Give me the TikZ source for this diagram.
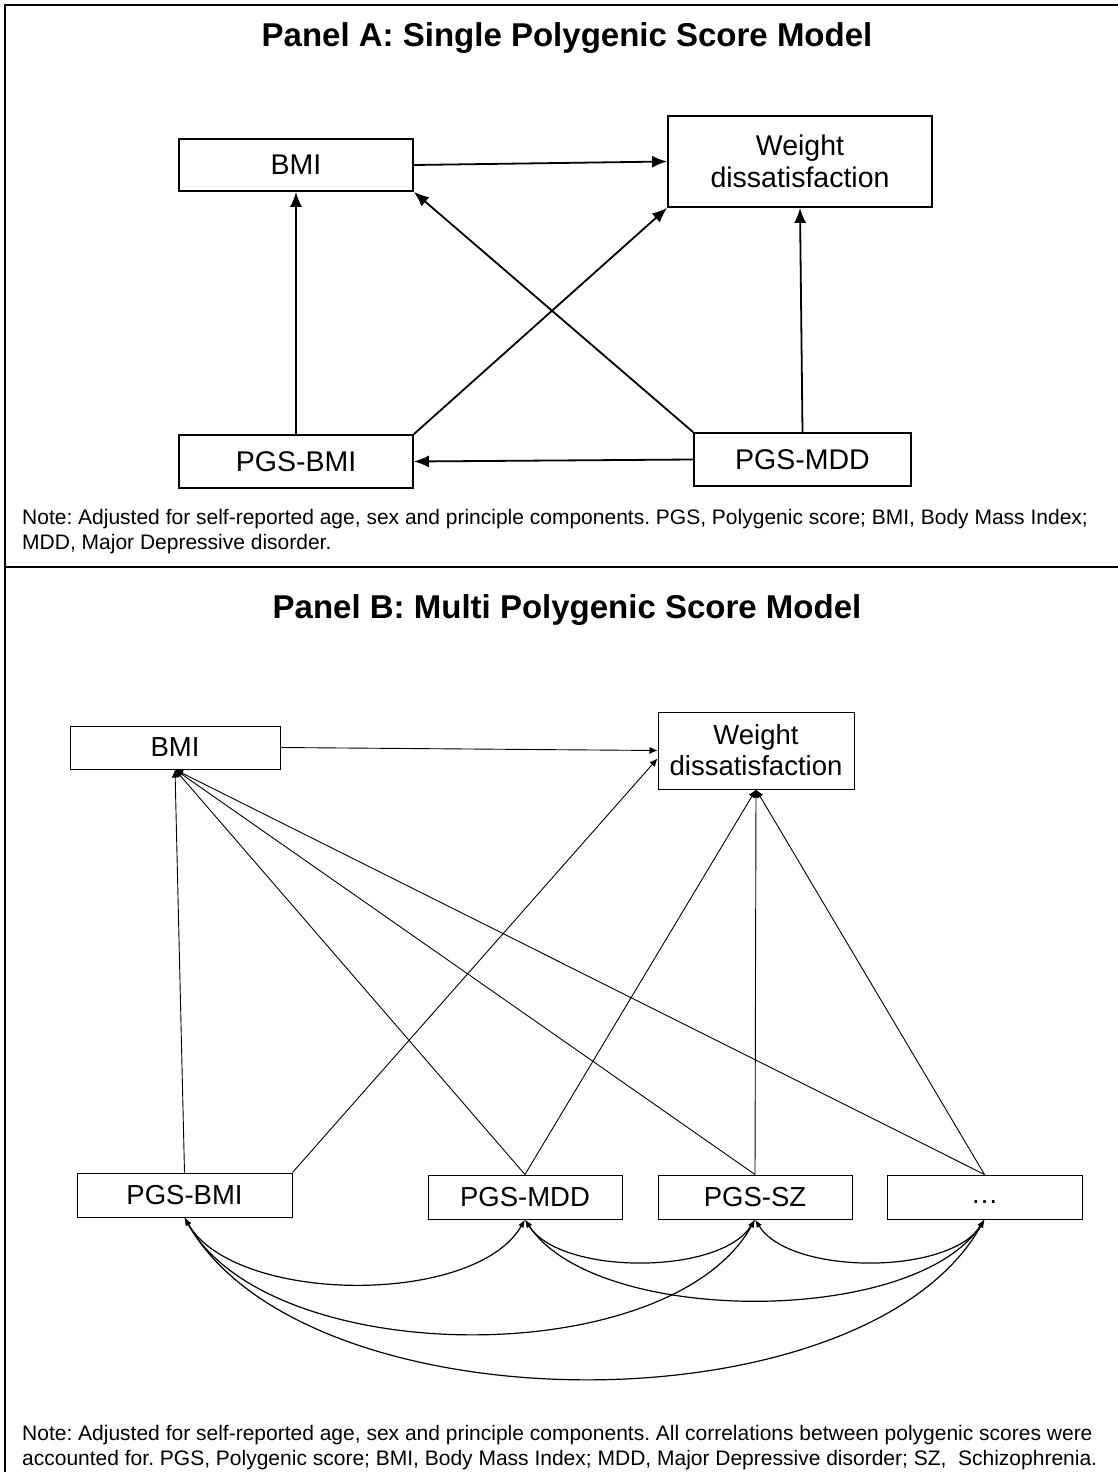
\documentclass[tikz,border=0pt]{standalone}
\usepackage{fontspec}
\setmainfont{Liberation Sans}
\usetikzlibrary{arrows.meta}
\frenchspacing

\tikzset{
  boxA/.style={draw, line width=1.8pt, inner sep=0pt, align=center,
    font=\fontsize{28.5}{32}\selectfont},
  boxB/.style={draw, line width=1pt, inner sep=0pt, align=center,
    font=\fontsize{27.5}{31}\selectfont},
  arrA/.style={line width=1.8pt, -{Latex[length=15pt,width=12pt]}},
  arrB/.style={line width=0.9pt, -{Latex[length=8pt,width=7pt]}},
  corr/.style={line width=1.2pt, {Latex[length=8pt,width=6pt]}-{Latex[length=8pt,width=6pt]}},
  paneltitle/.style={font=\bfseries\fontsize{33}{37}\selectfont},
  notetext/.style={anchor=north west, align=left, inner sep=0pt,
    font=\fontsize{21}{25}\selectfont}
}

\begin{document}
\begin{tikzpicture}[x=1pt, y=-1pt]
  \useasboundingbox (0,0) rectangle (1118,1472);
  \draw[line width=1.8pt] (5,1490) -- (5,5) -- (1130,5);
  \draw[line width=1.8pt] (5,567) -- (1130,567);

  % Panel A
  \node[paneltitle] (titleA) at (567,38) {Panel A: Single Polygenic Score Model};
  \node[boxA, minimum width=234pt, minimum height=52pt] (bmiA) at (296,165) {BMI};
  \node[boxA, minimum width=264pt, minimum height=91pt] (wdA) at (800,161.5) {Weight\\dissatisfaction};
  \node[boxA, minimum width=234pt, minimum height=53pt] (pgsbmiA) at (296,461.5) {PGS-BMI};
  \node[boxA, minimum width=217pt, minimum height=53pt] (pgsmddA) at (802.5,459.5) {PGS-MDD};

  \draw[arrA] (bmiA.east) -- (wdA.west);
  \draw[arrA] (pgsbmiA.north) -- (bmiA.south);
  \draw[arrA] (pgsbmiA.north east) -- (wdA.south west);
  \draw[arrA] (pgsmddA.north west) -- (bmiA.south east);
  \draw[arrA] (pgsmddA.north) -- (wdA.south);
  \draw[arrA] (pgsmddA.west) -- (pgsbmiA.east);

  \node[notetext] (noteA) at (22,509) {Note: Adjusted for self-reported age, sex and principle components. PGS, Polygenic score; BMI, Body Mass Index;\\MDD, Major Depressive disorder.};

  % Panel B
  \node[paneltitle] (titleB) at (567,610) {Panel B: Multi Polygenic Score Model};
  \node[boxB, minimum width=210pt, minimum height=43pt] (bmiB) at (175,747.5) {BMI};
  \node[boxB, minimum width=196pt, minimum height=77pt] (wdB) at (756,750.5) {Weight\\dissatisfaction};
  \node[boxB, minimum width=215pt, minimum height=44pt] (pgsbmiB) at (184.5,1195) {PGS-BMI};
  \node[boxB, minimum width=194pt, minimum height=44pt] (pgsmddB) at (525,1197) {PGS-MDD};
  \node[boxB, minimum width=194pt, minimum height=44pt] (pgsszB) at (755,1197) {PGS-SZ};
  \node[boxB, minimum width=195pt, minimum height=44pt] (dotsB) at (984.5,1197) {\strut…};

  \draw[arrB] (bmiB.east) -- (wdB.west);
  \draw[arrB] (pgsbmiB.north) -- (bmiB.south);
  \draw[arrB] (pgsbmiB.north east) -- ([yshift=-8pt]wdB.west);
  \draw[arrB] (pgsmddB.north) -- (bmiB.south);
  \draw[arrB] (pgsszB.north) -- (bmiB.south);
  \draw[arrB] (dotsB.north) -- (bmiB.south);
  \draw[arrB] (pgsmddB.north) -- (wdB.south);
  \draw[arrB] (pgsszB.north) -- (wdB.south);
  \draw[arrB] (dotsB.north) -- (wdB.south);

  % correlations between scores
  \draw[corr] (pgsbmiB.south) .. controls +(50,87) and +(-50,87) .. (pgsmddB.south);
  \draw[corr] (pgsmddB.south) .. controls +(35,56) and +(-35,56) .. (pgsszB.south);
  \draw[corr] (pgsszB.south) .. controls +(35,56) and +(-35,56) .. (dotsB.south);
  \draw[corr] (pgsmddB.south) .. controls +(70,107) and +(-70,107) .. (dotsB.south);
  \draw[corr] (pgsbmiB.south) .. controls +(85,153) and +(-85,153) .. (pgsszB.south);
  \draw[corr] (pgsbmiB.south) .. controls +(120,213) and +(-120,213) .. (dotsB.south);

  \node[notetext] (noteB) at (22,1425) {Note: Adjusted for self-reported age, sex and principle components. All correlations between polygenic scores were\\accounted for. PGS, Polygenic score; BMI, Body Mass Index; MDD, Major Depressive disorder; SZ,\ \ Schizophrenia.};
\end{tikzpicture}
\end{document}
